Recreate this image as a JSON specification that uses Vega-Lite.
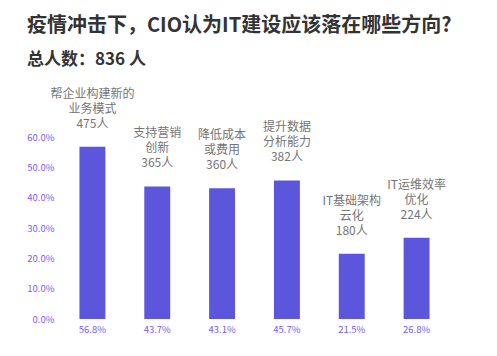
{
  "$schema": "https://vega.github.io/schema/vega-lite/v6.json",
  "width": 389,
  "height": 182,
  "autosize": "none",
  "padding": {"left": 60, "top": 137, "right": 48, "bottom": 37},
  "background": "white",
  "config": {"view": {"stroke": null}, "font": "Noto Sans CJK SC"},
  "title": {
    "text": "疫情冲击下，CIO认为IT建设应该落在哪些方向?",
    "subtitle": "总人数：836 人",
    "anchor": "start",
    "frame": "group",
    "dx": -33,
    "offset": 20,
    "fontSize": 20,
    "fontWeight": "bold",
    "color": "#333333",
    "subtitleFontSize": 17,
    "subtitleFontWeight": "bold",
    "subtitleColor": "#333333",
    "subtitlePadding": 16,
    "font": "Noto Sans CJK SC",
    "subtitleFont": "Noto Sans CJK SC"
  },
  "data": {
    "values": [
      {"k": "a", "label": "帮企业构建新的\n业务模式\n475人", "pct": 0.568},
      {"k": "b", "label": "支持营销\n创新\n365人", "pct": 0.437},
      {"k": "c", "label": "降低成本\n或费用\n360人", "pct": 0.431},
      {"k": "d", "label": "提升数据\n分析能力\n382人", "pct": 0.457},
      {"k": "e", "label": "IT基础架构\n云化\n180人", "pct": 0.215},
      {"k": "f", "label": "IT运维效率\n优化\n224人", "pct": 0.268}
    ]
  },
  "encoding": {
    "x": {"field": "k", "type": "nominal", "sort": null,
      "scale": {"paddingInner": 0.6, "paddingOuter": 0.3},
      "axis": null},
    "y": {"field": "pct", "type": "quantitative",
      "scale": {"domain": [0, 0.6], "nice": false},
      "axis": {"format": ".1%", "values": [0, 0.1, 0.2, 0.3, 0.4, 0.5, 0.6],
        "domain": false, "ticks": false, "grid": false, "title": null,
        "labelColor": "#7b5cf0", "labelFontSize": 9.5, "labelPadding": 6,
        "labelFont": "Noto Sans CJK SC"}}
  },
  "layer": [
    {"mark": {"type": "bar", "color": "#5c56dd"}},
    {"mark": {"type": "text", "baseline": "bottom", "dy": -46, "lineBreak": "\n",
      "lineHeight": 15, "fontSize": 12, "color": "#757575", "font": "Noto Sans CJK SC"},
      "encoding": {"text": {"field": "label"}}},
    {"mark": {"type": "text", "baseline": "middle", "dy": 11, "fontSize": 9.5,
      "color": "#7b5cf0", "font": "Noto Sans CJK SC"},
      "encoding": {"y": {"datum": 0}, "text": {"field": "pct", "format": ".1%"}}}
  ]
}
